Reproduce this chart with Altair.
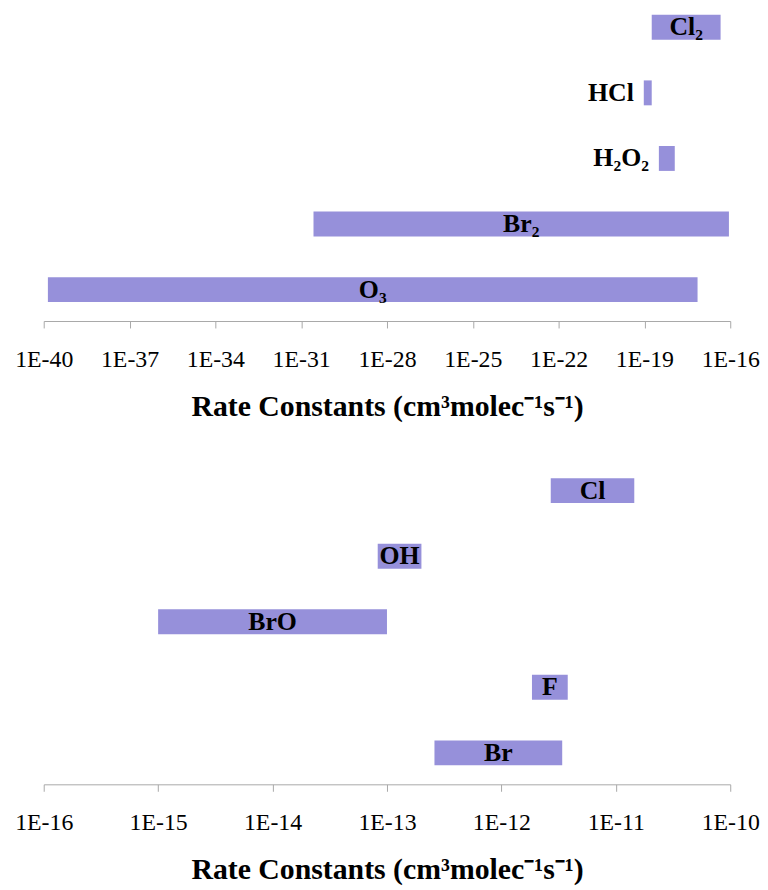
import altair as alt
import numpy as np
import pandas as pd

# ---- data ----
top_species = ["Cl₂", "HCl", "H₂O₂", "Br₂", "O₃"]
top_low = [1.8e-19, 9.5e-20, 3.2e-19, 2.7e-31, 1.4e-40]
top_high = [4.6e-17, 1.8e-19, 1.15e-18, 9.0e-17, 7.2e-18]
top_ticks = [1e-40, 1e-37, 1e-34, 1e-31, 1e-28, 1e-25, 1e-22, 1e-19, 1e-16]

bottom_species = ["Cl", "OH", "BrO", "F", "Br"]
bottom_low = [2.7e-12, 8.3e-14, 1.0e-15, 1.85e-12, 2.6e-13]
bottom_high = [1.45e-11, 2.0e-13, 1.0e-13, 3.8e-12, 3.4e-12]
bottom_ticks = [1e-16, 1e-15, 1e-14, 1e-13, 1e-12, 1e-11, 1e-10]

labels_outside = ["HCl", "H₂O₂"]

TITLE = "Rate Constants (cm³molec⁻¹s⁻¹)"
FONT = "Liberation Serif"
BAR_COLOR = "#9690da"


def panel(species, low, high, ticks):
    df = pd.DataFrame({"species": species, "low": low, "high": high})
    df["mid"] = np.sqrt(df["low"] * df["high"])
    df["outside"] = df["species"].isin(labels_outside)

    xscale = alt.Scale(type="log", domain=[ticks[0], ticks[-1]], nice=False)
    yenc = alt.Y(
        "species:N",
        sort=species,
        axis=None,
        scale=alt.Scale(paddingInner=0.62, paddingOuter=0.17, align=0.15),
    )
    bars = alt.Chart(df).mark_bar(color=BAR_COLOR).encode(
        x=alt.X(
            "low:Q",
            scale=xscale,
            title=TITLE,
            axis=alt.Axis(
                values=ticks,
                labelExpr="'1E-' + round(-log(datum.value)/LN10)",
                grid=False,
                labelFlush=False,
                labelOverlap=False,
                labelFont=FONT,
                labelFontSize=24,
                labelColor="black",
                labelPadding=20,
                tickSize=7,
                tickColor="#a8a8a8",
                domainColor="#a8a8a8",
                titleFont=FONT,
                titleFontSize=30,
                titleFontWeight="bold",
                titleColor="black",
                titlePadding=20,
            ),
        ),
        x2="high:Q",
        y=yenc,
    )
    inside = (
        alt.Chart(df)
        .transform_filter("!datum.outside")
        .mark_text(font=FONT, fontSize=26, fontWeight="bold", color="black",
                   align="center", baseline="middle")
        .encode(x=alt.X("mid:Q", scale=xscale, title=TITLE), y=yenc, text="species:N")
    )
    outside = (
        alt.Chart(df)
        .transform_filter("datum.outside")
        .mark_text(font=FONT, fontSize=26, fontWeight="bold", color="black",
                   align="right", baseline="middle", dx=-10)
        .encode(x=alt.X("low:Q", scale=xscale, title=TITLE), y=yenc, text="species:N")
    )
    return alt.layer(bars, inside, outside).properties(width=692, height=312)


top = panel(top_species, top_low, top_high, top_ticks)
bottom = panel(bottom_species, bottom_low, bottom_high, bottom_ticks)

chart = (
    alt.vconcat(top, bottom, spacing=54)
    .properties(padding={"left": 6, "top": 0, "right": 0, "bottom": 0})
    .configure_view(stroke=None)
)

chart.save("out.html", embed_options={"renderer": "svg", "actions": False})
